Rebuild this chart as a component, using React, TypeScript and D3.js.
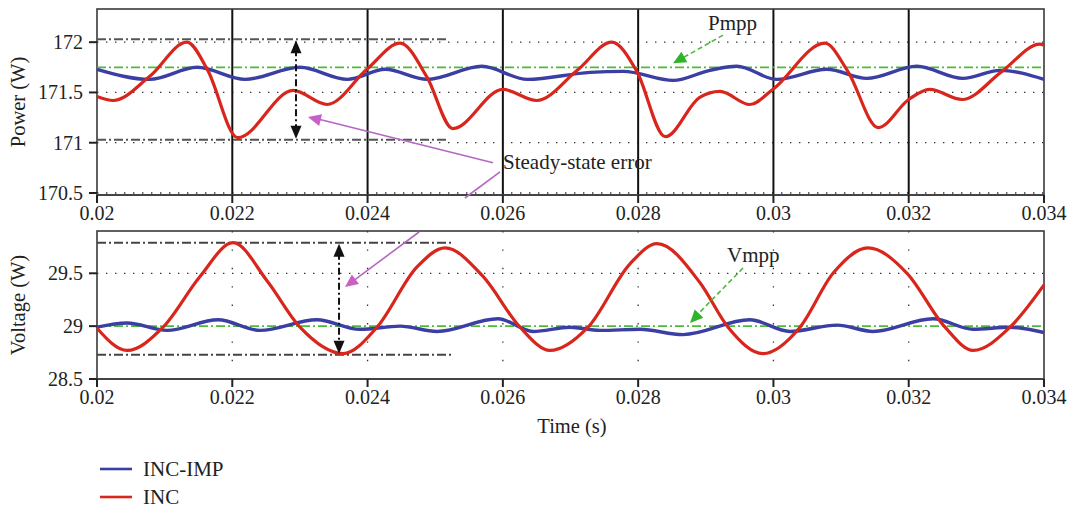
import React from "react";
import * as d3 from "d3";

// ---------- data ----------
const timeTicks = [0.02, 0.022, 0.024, 0.026, 0.028, 0.03, 0.032, 0.034];
const timeTickLabels = ["0.02", "0.022", "0.024", "0.026", "0.028", "0.03", "0.032", "0.034"];
const powerTicks = [170.5, 171, 171.5, 172];
const powerTickLabels = ["170.5", "171", "171.5", "172"];
const voltageTicks = [28.5, 29, 29.5];
const voltageTickLabels = ["28.5", "29", "29.5"];

// INC power (red)
const incPowerTime = [0.02, 0.02024, 0.02078, 0.02133, 0.02163, 0.02208, 0.0229, 0.0234, 0.02399, 0.02448, 0.02488, 0.02526, 0.026, 0.0265, 0.0271, 0.02761, 0.02798, 0.0284, 0.02891, 0.02921, 0.02965, 0.02999, 0.03076, 0.0311, 0.03155, 0.032, 0.03231, 0.03279, 0.03338, 0.03394, 0.034];
const incPower = [171.46, 171.42, 171.66, 172.0, 171.73, 171.05, 171.52, 171.38, 171.73, 171.99, 171.65, 171.14, 171.53, 171.42, 171.72, 172.0, 171.71, 171.06, 171.45, 171.51, 171.38, 171.53, 171.99, 171.71, 171.15, 171.43, 171.53, 171.43, 171.71, 171.98, 171.97];

// INC-IMP power (blue)
const impPowerTime = [0.02, 0.02078, 0.02148, 0.02219, 0.023, 0.0237, 0.02426, 0.02488, 0.02569, 0.02636, 0.02729, 0.02778, 0.02852, 0.02906, 0.02946, 0.03005, 0.03079, 0.03138, 0.03212, 0.0328, 0.03335, 0.034];
const impPower = [171.73, 171.63, 171.75, 171.63, 171.75, 171.63, 171.73, 171.63, 171.76, 171.63, 171.7, 171.71, 171.62, 171.72, 171.76, 171.63, 171.73, 171.64, 171.76, 171.64, 171.72, 171.63];

// INC voltage (red)
const incVoltTime = [0.02, 0.020444, 0.020976, 0.021523, 0.022011, 0.022513, 0.023001, 0.023637, 0.02414, 0.024731, 0.025145, 0.025707, 0.026254, 0.026697, 0.027259, 0.02788, 0.028279, 0.028915, 0.029329, 0.029846, 0.030393, 0.030881, 0.031398, 0.031975, 0.032537, 0.032951, 0.033498, 0.034];
const incVolt = [28.98, 28.77, 28.99, 29.47, 29.79, 29.43, 28.99, 28.74, 28.99, 29.56, 29.74, 29.47, 28.99, 28.77, 28.99, 29.59, 29.78, 29.41, 28.99, 28.74, 28.99, 29.5, 29.74, 29.5, 28.99, 28.77, 28.99, 29.39];

// INC-IMP voltage (blue)
const impVoltTime = [0.02, 0.020444, 0.021035, 0.021789, 0.02241, 0.023252, 0.023888, 0.02448, 0.025027, 0.025928, 0.026446, 0.026993, 0.027436, 0.028028, 0.028663, 0.02965, 0.030245, 0.03094, 0.031472, 0.032359, 0.032951, 0.033498, 0.034];
const impVolt = [28.99, 29.03, 28.96, 29.06, 28.96, 29.06, 28.97, 29.0, 28.95, 29.07, 28.95, 28.99, 28.96, 28.97, 28.92, 29.06, 28.95, 29.01, 28.95, 29.07, 28.97, 28.99, 28.94];

const pmpp = 171.75;
const vmpp = 29.0;
const powerErrorBand = [171.03, 172.03];
const voltErrorBand = [28.73, 29.79];

const seriesNames = ["INC-IMP", "INC"];
const seriesColors = ["#3b3ea2", "#d8261d"];

// ---------- layout ----------
const W = 1070;
const H = 508;
const X0 = 97;
const X1 = 1044;
const font = "Liberation Serif, DejaVu Serif, serif";

export default function App() {
  const x = d3.scaleLinear().domain([0.02, 0.034]).range([X0, X1]);
  const yP = d3.scaleLinear().domain([170.48, 172.33]).range([195, 9]);
  const yV = d3.scaleLinear().domain([28.5, 29.9]).range([379, 231]);

  const mkLine = (ys: d3.ScaleLinear<number, number>) =>
    d3
      .line<[number, number]>()
      .x((d) => x(d[0]))
      .y((d) => ys(d[1]))
      .curve(d3.curveMonotoneX);

  const zip = (a: number[], b: number[]) => a.map((t, i) => [t, b[i]] as [number, number]);

  const lineP = mkLine(yP);
  const lineV = mkLine(yV);

  const dotted = "1.4 7.6";
  const dashDot = "9 3 2 3";
  const gridDotColor = "#333";

  const innerTicks = timeTicks.slice(1, -1);

  // annotation anchors (data units)
  const pmppText = { t: 0.029033, v: 172.12 };
  const pmppFrom = { t: 0.029255, v: 172.07 };
  const pmppTip = { t: 0.028516, v: 171.79 };
  const vmppText = { t: 0.029314, v: 29.607 };
  const vmppFrom = { t: 0.029551, v: 29.55 };
  const vmppTip = { t: 0.028767, v: 29.03 };
  const errText = { t: 0.026002, v: 170.74 };
  const errFrom1 = { t: 0.025854, v: 170.8 };
  const errTip1 = { t: 0.023119, v: 171.256 };
  const errFrom2 = { t: 0.025958, v: 170.71 };
  const errTip2 = { t: 0.023666, v: 29.37 };
  const pBandEnd = 0.025189;
  const vBandEnd = 0.025248;
  const pArrowT = 0.022942;
  const vArrowT = 0.023578;

  const arrowHead = (x1: number, y1: number, x2: number, y2: number, size: number, w: number) => {
    const ang = Math.atan2(y2 - y1, x2 - x1);
    const bx = x2 - size * Math.cos(ang);
    const by = y2 - size * Math.sin(ang);
    const px = -Math.sin(ang) * w;
    const py = Math.cos(ang) * w;
    return `M${x2},${y2}L${bx + px},${by + py}L${bx - px},${by - py}Z`;
  };

  const s2 = { x: x(errFrom2.t), y: yP(errFrom2.v) };
  const e2 = { x: x(errTip2.t), y: yV(errTip2.v) };
  const atY = (yy: number) => s2.x + ((yy - s2.y) / (e2.y - s2.y)) * (e2.x - s2.x);
  const gapTop = 198;
  const gapBot = 232;

  const txt = { fontFamily: font } as React.CSSProperties;

  const renderPanel = (
    ys: d3.ScaleLinear<number, number>,
    yTicks: number[],
    yLabels: string[],
    top: number,
    bottom: number,
    kind: "P" | "V"
  ) => (
    <g>
      {yTicks.map((v, i) =>
        kind === "V" && v !== 29.5 ? null : (
          <line key={"hg" + i} x1={X0} x2={X1} y1={ys(v)} y2={ys(v)} stroke={gridDotColor} strokeWidth={1.3} strokeDasharray={dotted} />
        )
      )}
      {innerTicks.map((t, i) =>
        kind === "P" ? (
          <line key={"vg" + i} x1={x(t)} x2={x(t)} y1={top} y2={bottom} stroke="#111" strokeWidth={2} />
        ) : (
          <line key={"vg" + i} x1={x(t)} x2={x(t)} y1={top} y2={bottom} stroke={gridDotColor} strokeWidth={1.3} strokeDasharray="1.4 17" />
        )
      )}
      <rect x={X0} y={top} width={X1 - X0} height={bottom - top} fill="none" stroke="#3a3a3a" strokeWidth={1.6} />
      <line x1={X0} x2={X1} y1={bottom} y2={bottom} stroke="#444" strokeWidth={2.2} />
      {yTicks.map((v, i) => (
        <g key={"yt" + i}>
          <line x1={X0 - 8} x2={X0} y1={ys(v)} y2={ys(v)} stroke="#222" strokeWidth={2} />
          <text x={83} y={ys(v)} dy="0.35em" textAnchor="end" style={txt} fontSize={20} fill="#222">
            {yLabels[i]}
          </text>
        </g>
      ))}
      {timeTicks.map((t, i) => (
        <g key={"xt" + i}>
          <line x1={x(t)} x2={x(t)} y1={bottom} y2={bottom + 8} stroke="#222" strokeWidth={2} />
          <text x={x(t)} y={bottom + 25} textAnchor="middle" style={txt} fontSize={20} fill="#222">
            {timeTickLabels[i]}
          </text>
        </g>
      ))}
    </g>
  );

  const pTop = 9, pBot = 195, vTop = 231, vBot = 379;

  return (
    <svg width={W} height={H} style={{ position: "absolute", left: 0, top: 0, background: "#fff" }}>
      <rect x={0} y={0} width={W} height={H} fill="#fff" />
      {renderPanel(yP, powerTicks, powerTickLabels, pTop, pBot, "P")}
      {renderPanel(yV, voltageTicks, voltageTickLabels, vTop, vBot, "V")}

      {powerErrorBand.map((v, i) => (
        <line key={"pb" + i} x1={X0} x2={x(pBandEnd)} y1={yP(v)} y2={yP(v)} stroke="#555" strokeWidth={2} strokeDasharray={dashDot} />
      ))}
      {voltErrorBand.map((v, i) => (
        <line key={"vb" + i} x1={X0} x2={x(vBandEnd)} y1={yV(v)} y2={yV(v)} stroke="#444" strokeWidth={2} strokeDasharray={dashDot} />
      ))}

      <line x1={X0} x2={X1} y1={yP(pmpp)} y2={yP(pmpp)} stroke="#4cbb3a" strokeWidth={1.8} strokeDasharray={dashDot} />
      <line x1={X0} x2={X1} y1={yV(vmpp)} y2={yV(vmpp)} stroke="#4cbb3a" strokeWidth={1.8} strokeDasharray={dashDot} />

      <path d={lineP(zip(impPowerTime, impPower)) || ""} fill="none" stroke={seriesColors[0]} strokeWidth={3.4} strokeLinejoin="round" />
      <path d={lineP(zip(incPowerTime, incPower)) || ""} fill="none" stroke={seriesColors[1]} strokeWidth={3.2} strokeLinejoin="round" />
      <path d={lineV(zip(impVoltTime, impVolt)) || ""} fill="none" stroke={seriesColors[0]} strokeWidth={3.4} strokeLinejoin="round" />
      <path d={lineV(zip(incVoltTime, incVolt)) || ""} fill="none" stroke={seriesColors[1]} strokeWidth={3.2} strokeLinejoin="round" />

      {[
        { xx: x(pArrowT), ya: yP(powerErrorBand[1]), yb: yP(powerErrorBand[0]) },
        { xx: x(vArrowT), ya: yV(voltErrorBand[1]), yb: yV(voltErrorBand[0]) },
      ].map((a, i) => (
        <g key={"da" + i}>
          <line x1={a.xx} x2={a.xx} y1={a.ya + 10} y2={a.yb - 10} stroke="#111" strokeWidth={2} strokeDasharray="7 3 2 3" />
          <path d={arrowHead(a.xx, a.yb, a.xx, a.ya + 1, 13, 5.5)} fill="#111" />
          <path d={arrowHead(a.xx, a.ya, a.xx, a.yb - 1, 13, 5.5)} fill="#111" />
        </g>
      ))}

      <line x1={x(pmppFrom.t)} y1={yP(pmppFrom.v)} x2={x(pmppTip.t) + 9} y2={yP(pmppTip.v) - 5} stroke="#4cbb3a" strokeWidth={1.6} strokeDasharray="5 3" />
      <path d={arrowHead(x(pmppFrom.t), yP(pmppFrom.v), x(pmppTip.t), yP(pmppTip.v), 13, 6)} fill="#2fb32a" />
      <text x={x(pmppText.t)} y={yP(pmppText.v)} style={txt} fontSize={21} fill="#222">Pmpp</text>

      <line x1={x(vmppFrom.t)} y1={yV(vmppFrom.v)} x2={x(vmppTip.t) + 7} y2={yV(vmppTip.v) - 8} stroke="#4cbb3a" strokeWidth={1.6} strokeDasharray="5 3" />
      <path d={arrowHead(x(vmppFrom.t), yV(vmppFrom.v), x(vmppTip.t), yV(vmppTip.v), 13, 6)} fill="#2fb32a" />
      <text x={x(vmppText.t)} y={yV(vmppText.v)} style={txt} fontSize={21} fill="#222">Vmpp</text>

      <line x1={x(errFrom1.t)} y1={yP(errFrom1.v)} x2={x(errTip1.t) + 10} y2={yP(errTip1.v) + 2} stroke="#b468c0" strokeWidth={1.6} />
      <path d={arrowHead(x(errFrom1.t), yP(errFrom1.v), x(errTip1.t), yP(errTip1.v), 13, 6)} fill="#c860c8" />
      <line x1={s2.x} y1={s2.y} x2={atY(gapTop)} y2={gapTop} stroke="#b468c0" strokeWidth={1.6} />
      <line x1={atY(gapBot)} y1={gapBot} x2={e2.x + 8} y2={e2.y - 6} stroke="#b468c0" strokeWidth={1.6} />
      <path d={arrowHead(s2.x, s2.y, e2.x, e2.y, 13, 6)} fill="#c860c8" />
      <text x={x(errText.t)} y={yP(errText.v)} style={txt} fontSize={21} fill="#222">Steady-state error</text>

      <text transform={`translate(25,${(pTop + pBot) / 2}) rotate(-90)`} textAnchor="middle" style={txt} fontSize={20.5} fill="#222">Power (W)</text>
      <text transform={`translate(25,${(vTop + vBot) / 2}) rotate(-90)`} textAnchor="middle" style={txt} fontSize={20.5} fill="#222">Voltage (W)</text>
      <text x={572} y={433} textAnchor="middle" style={txt} fontSize={20.5} fill="#222">Time (s)</text>

      {seriesNames.map((n, i) => (
        <g key={"lg" + i}>
          <line x1={100} x2={132} y1={469 + i * 28} y2={469 + i * 28} stroke={seriesColors[i]} strokeWidth={2.6} />
          <text x={143} y={469 + i * 28} dy="0.35em" style={txt} fontSize={21} fill="#222">{n}</text>
        </g>
      ))}
    </svg>
  );
}
